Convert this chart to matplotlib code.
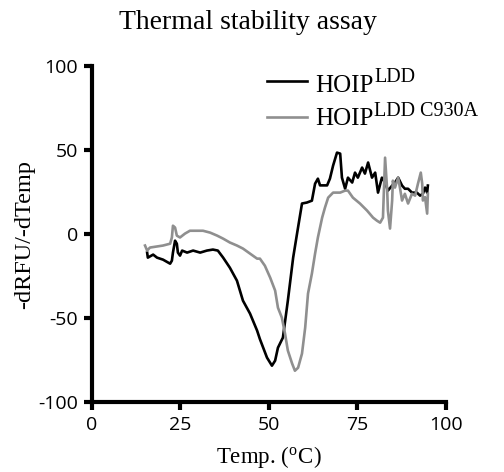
import matplotlib
matplotlib.use("Agg")
import matplotlib.pyplot as plt

# HOIP LDD (black)
temp_wt = [15.6, 15.8, 17.3, 18.4, 20.1, 22.1, 22.6, 22.9, 23.5, 24.0, 24.3, 24.9, 25.5, 26.9,
           28.6, 30.6, 32.5, 34.2, 35.6, 37.1, 39.0, 41.0, 42.7, 44.7, 46.7, 47.5, 49.5, 50.9,
           51.8, 52.6, 54.0, 55.4, 56.9, 58.0, 59.4, 60.8, 62.2, 63.1, 63.9, 64.5, 66.5, 67.3,
           68.2, 69.3, 70.2, 70.7, 71.6, 72.4, 73.6, 74.4, 75.2, 76.4, 77.2, 78.1, 79.2, 80.1,
           80.9, 82.0, 82.9, 83.7, 84.9, 85.7, 86.6, 87.7, 88.5, 89.4, 90.5, 91.9, 92.8, 93.6,
           94.2, 94.8, 95.0]
drfu_wt = [-11, -14, -12.2, -14, -15.2, -17.6, -15.8, -11, -3.9, -5.7, -11, -12.8, -9.8, -11,
           -9.8, -11, -9.8, -9.2, -9.8, -14, -20, -27.7, -39.6, -47.3, -57.4, -62.5, -73.5, -78.3,
           -75.3, -67.6, -61.6, -39.6, -14, 0.3, 18.2, 18.8, 19.9, 30, 33, 29, 29, 33,
           40.8, 48.5, 47.9, 33.6, 27, 33.6, 30.7, 36.6, 33.6, 39.6, 36, 42.6, 33.6, 36.6,
           24.7, 33.6, 30.7, 25.9, 28.9, 30.7, 33.6, 28.9, 27, 27, 24.7, 24.7, 22.9, 24,
           27.7, 24.7, 28.9]

# HOIP LDD C930A (grey)
temp_mut = [15.0, 15.6, 16.4, 20.1, 22.1, 22.6, 22.9, 23.5, 24.0, 24.9, 26.3, 27.7, 29.7, 31.4,
            33.4, 35.4, 37.1, 39.0, 41.0, 42.7, 44.7, 46.7, 47.5, 48.9, 50.4, 51.8, 52.6, 53.7,
            54.6, 55.4, 56.6, 57.4, 58.3, 59.4, 60.3, 61.1, 62.2, 63.1, 63.9, 65.1, 65.9, 66.8,
            68.2, 70.2, 71.6, 72.4, 73.8, 75.8, 77.8, 79.5, 80.6, 81.5, 82.3, 82.9, 83.5, 83.7,
            84.3, 84.9, 85.1, 85.7, 86.6, 87.1, 87.7, 88.5, 89.4, 90.5, 91.4, 92.2, 93.0, 93.4,
            93.6, 94.2, 94.8, 95.0]
drfu_mut = [-6.8, -9.8, -8, -6.8, -5.7, -2, 5, 3.9, -0.9, -2, 0.3, 2, 2, 2,
            0.9, -0.9, -2.7, -5, -6.8, -8.6, -11.6, -14.6, -14.6, -18.8, -25.9, -33.6, -43.8, -49.7,
            -59.2, -69.3, -77, -81.3, -79.5, -71.1, -55.7, -35.4, -23.5, -11.6, -2, 9.8, 15.8, 21.7,
            24.7, 24.7, 25.9, 25.9, 21.7, 18.2, 14, 9.8, 8, 6.8, 9.8, 45.5, 25.9, 14,
            3.3, 20, 31.8, 27.7, 33.6, 27.7, 20, 24, 18.2, 24, 22.9, 30, 36.6, 30,
            20, 22, 12.2, 24]

labels = ['HOIP', 'HOIP']
sup_labels = ['LDD', 'LDD C930A']
colors = ['black', '#8f8f8f']
x_ticks = [0, 25, 50, 75, 100]
y_ticks = [-100, -50, 0, 50, 100]

plt.rcParams['mathtext.fontset'] = 'stix'
plt.rcParams['axes.unicode_minus'] = False
serif = 'Liberation Serif'
sans = 'Open Sans'

fig = plt.figure(figsize=(5.04, 4.72), dpi=100)
ax = fig.add_axes([0.1825, 0.148, 0.7015, 0.712])

ax.plot(temp_wt, drfu_wt, color=colors[0], lw=1.9)
ax.plot(temp_mut, drfu_mut, color=colors[1], lw=1.9)

ax.set_xlim(0, 100)
ax.set_ylim(-100, 100)
ax.set_xticks(x_ticks)
ax.set_yticks(y_ticks)
for lab in ax.get_xticklabels() + ax.get_yticklabels():
    lab.set_fontfamily(sans)
    lab.set_fontsize(14)

for s in ['top', 'right']:
    ax.spines[s].set_visible(False)
for s in ['left', 'bottom']:
    ax.spines[s].set_linewidth(3)
ax.tick_params(width=3, length=6, direction='out', pad=4)

ax.set_xlabel(r'Temp. ($^{\mathregular{o}}$C)', fontfamily=serif, fontsize=16.5, labelpad=7)
ax.set_ylabel('-dRFU/-dTemp', fontfamily=serif, fontsize=17.5, labelpad=2)
fig.text(0.492, 0.953, 'Thermal stability assay', fontfamily=serif, fontsize=20,
         ha='center', va='center')

# legend drawn by hand: line sample, "HOIP", then a large superscript
line_y = [0.9557, 0.8485]
base_y = [0.9229, 0.8232]
tx = []
for i in range(2):
    ax.plot([0.495, 0.608], [line_y[i], line_y[i]], color=colors[i], lw=1.9,
            transform=ax.transAxes, clip_on=False)
    t = ax.text(0.631, base_y[i], labels[i], transform=ax.transAxes, fontfamily=serif,
                fontsize=18, va='baseline', ha='left')
    tx.append(t)

fig.canvas.draw()
r = fig.canvas.get_renderer()
for t, sup in zip(tx, sup_labels):
    bb = t.get_window_extent(r)
    x0, y0 = ax.transAxes.transform((0, t.get_position()[1]))
    ax.annotate(sup, xy=(bb.x1, y0), xycoords='figure pixels', xytext=(0.5, 7),
                textcoords='offset points', ha='left', va='baseline', fontfamily=serif,
                fontsize=14.5, annotation_clip=False)

fig.savefig('out.png', dpi=100)
